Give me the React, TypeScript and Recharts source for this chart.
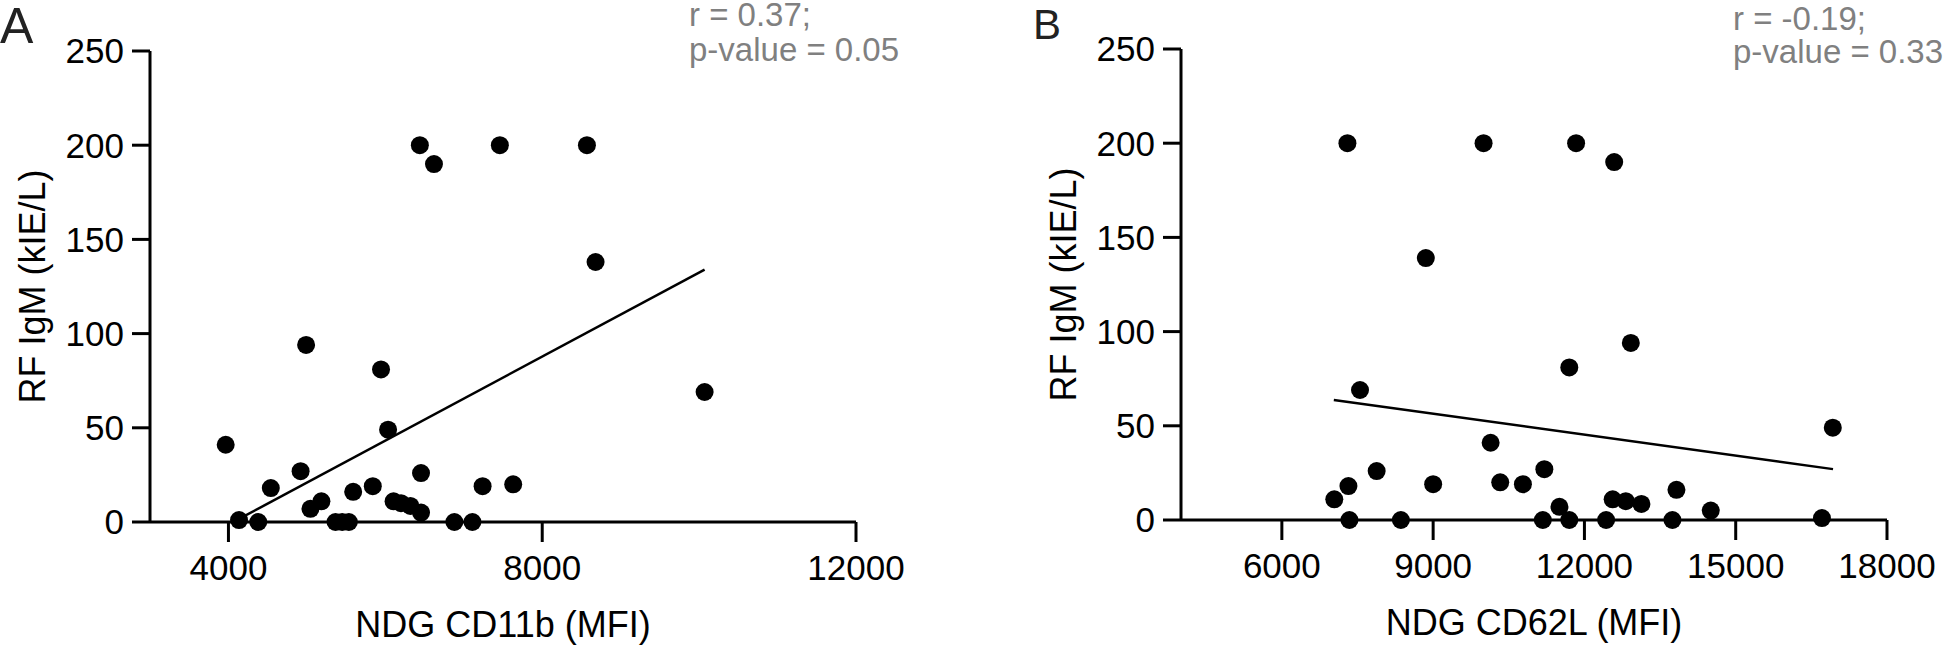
import React from "react";
import { ScatterChart, Scatter, XAxis, YAxis, ReferenceLine } from "recharts";

const FONT = '"Liberation Sans", Arial, Helvetica, sans-serif';

// panel A: NDG CD11b (MFI) vs RF IgM (kIE/L)
const cd11b = [6440, 6620, 7460, 8570, 8680, 10070, 4990, 5945, 6035, 3965, 4920, 6455, 4540, 5590, 5840, 7240, 7630, 5185, 5045, 6105, 6200, 6320, 6455, 4135, 4380, 5365, 5450, 5535, 6880, 7110];
const rfA = [200, 190, 200, 200, 138, 69, 94, 81, 49, 41, 27, 26, 18, 16, 19, 19, 20, 11, 7, 11, 10, 8.5, 5, 1, 0, 0, 0, 0, 0, 0];
const fitAx = [4130, 10070];
const fitAy = [1.5, 134];
const xTicksA = [4000, 8000, 12000];

// panel B: NDG CD62L (MFI) vs RF IgM (kIE/L)
const cd62l = [7300, 10000, 11835, 12590, 8855, 12920, 11700, 7550, 16925, 10140, 7880, 11205, 7320, 9000, 10330, 10780, 13825, 7040, 12560, 12820, 13130, 11505, 14505, 16710, 7340, 8360, 11175, 11700, 12430, 13745];
const rfB = [200, 200, 200, 190, 139, 94, 81, 69, 49, 41, 26, 27, 18, 19, 20, 19, 16, 11, 11, 10, 8.5, 7, 5, 1, 0, 0, 0, 0, 0, 0];
const fitBx = [7030, 16930];
const fitBy = [63.7, 27];
const xTicksB = [6000, 9000, 12000, 15000, 18000];

const yTicks = [0, 50, 100, 150, 200, 250];

function XTitle({ viewBox, text }: any) {
  const { x, y, width } = viewBox;
  return (
    <text x={x + width / 2} y={y + 115} textAnchor="middle" fontSize={36} fontFamily={FONT} fill="#000">
      {text}
    </text>
  );
}

function YTitle({ viewBox, text }: any) {
  const { x, y, height } = viewBox;
  const cx = x + 45;
  const cy = y + height / 2;
  return (
    <text x={cx} y={cy} textAnchor="middle" fontSize={36} fontFamily={FONT} fill="#000" transform={`rotate(-90 ${cx} ${cy})`}>
      {text}
    </text>
  );
}

const dot = (p: any) => <circle cx={p.cx} cy={p.cy} r={9} fill="#000" />;

// plot area always spans x 150..856 inside each chart
function Panel({ left, top, width, xs, ys, fx, fy, domain, ticks, xLabel }: any) {
  const data = xs.map((x: number, i: number) => ({ x, y: ys[i] }));
  return (
    <div style={{ position: "absolute", left, top: 0 }}>
      <ScatterChart width={width} height={645} margin={{ top, right: width - 856, bottom: 0, left: 0 }}>
        <XAxis
          type="number"
          dataKey="x"
          domain={domain}
          ticks={ticks}
          interval={0}
          height={645 - 522 - (top - 51)}
          tickSize={20}
          tickMargin={13}
          axisLine={{ stroke: "#000", strokeWidth: 3 }}
          tickLine={{ stroke: "#000", strokeWidth: 3 }}
          tick={{ fill: "#000", fontSize: 35, fontFamily: FONT }}
          label={<XTitle text={xLabel} />}
        />
        <YAxis
          type="number"
          dataKey="y"
          domain={[0, 250]}
          ticks={yTicks}
          interval={0}
          width={150}
          tickSize={18}
          tickMargin={8}
          axisLine={{ stroke: "#000", strokeWidth: 3 }}
          tickLine={{ stroke: "#000", strokeWidth: 3 }}
          tick={{ fill: "#000", fontSize: 35, fontFamily: FONT }}
          label={<YTitle text="RF IgM (kIE/L)" />}
        />
        <ReferenceLine
          segment={[{ x: fx[0], y: fy[0] }, { x: fx[1], y: fy[1] }]}
          stroke="#000"
          strokeWidth={2.5}
        />
        <Scatter data={data} shape={dot} isAnimationActive={false} />
      </ScatterChart>
    </div>
  );
}

export default function App() {
  return (
    <div style={{ position: "absolute", left: 0, top: 0, width: 1945, height: 645, background: "#fff", overflow: "hidden" }}>
      <Panel left={0} top={51} width={930} xs={cd11b} ys={rfA} fx={fitAx} fy={fitAy} domain={[3000, 12000]} ticks={xTicksA} xLabel="NDG CD11b (MFI)" />
      <Panel left={1031} top={49} width={914} xs={cd62l} ys={rfB} fx={fitBx} fy={fitBy} domain={[4000, 18000]} ticks={xTicksB} xLabel="NDG CD62L (MFI)" />
      <svg width={1945} height={645} style={{ position: "absolute", left: 0, top: 0, pointerEvents: "none" }}>
        <g fontFamily={FONT}>
          <text x={0} y={43} fontSize={50} fill="#222">A</text>
          <text x={1033} y={39} fontSize={42} fill="#222">B</text>
          <text x={689} y={26} fontSize={33} fill="#808080">r = 0.37;</text>
          <text x={689} y={61} fontSize={33} fill="#808080">p-value = 0.05</text>
          <text x={1733} y={30} fontSize={33} fill="#808080">r = -0.19;</text>
          <text x={1733} y={63} fontSize={33} fill="#808080">p-value = 0.33</text>
        </g>
      </svg>
    </div>
  );
}
